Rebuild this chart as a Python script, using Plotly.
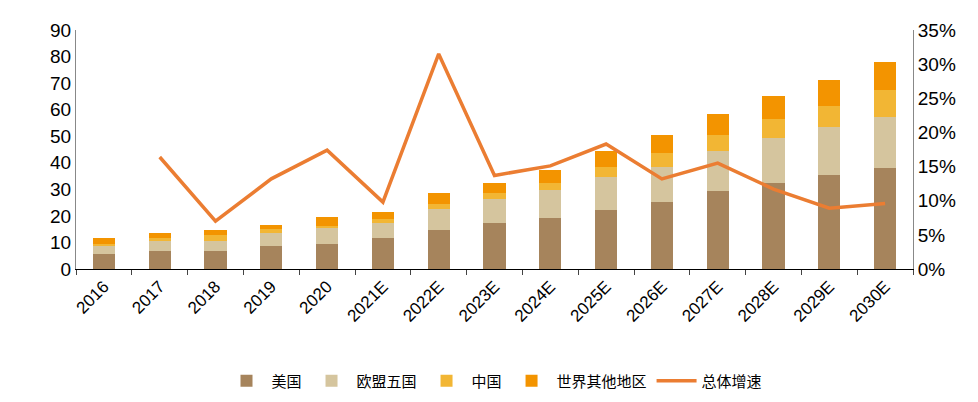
import plotly.graph_objects as go

years = ["2016","2017","2018","2019","2020","2021E","2022E","2023E","2024E","2025E","2026E","2027E","2028E","2029E","2030E"]
us = [5.8,6.6,6.6,8.6,9.6,11.5,14.5,17.5,19.3,22.4,25.4,29.5,32.5,35.5,38.1]
eu5 = [2.9,4.1,4.1,5.1,6.0,5.9,8.1,9.0,10.3,12.1,13.1,15.0,16.9,17.8,19.2]
cn = [0.8,1.1,2.0,1.2,0.7,1.3,1.9,2.0,2.9,4.0,5.0,5.9,7.1,8.0,10.2]
other = [2.3,1.9,1.9,1.8,3.2,2.9,4.0,4.0,4.8,6.0,7.0,7.9,8.7,9.9,10.5]
growth = [None,0.164,0.070,0.132,0.174,0.098,0.315,0.137,0.151,0.183,0.132,0.155,0.117,0.089,0.096]

fig = go.Figure()
for name, vals, col in [("美国",us,"#A6845C"),("欧盟五国",eu5,"#D5C59E"),("中国",cn,"#F2B634"),("世界其他地区",other,"#F39400")]:
    fig.add_bar(x=years, y=vals, name=name, marker=dict(color=col, line=dict(width=0)), width=0.4)
fig.add_scatter(x=years, y=growth, name="总体增速", yaxis="y2", mode="lines",
                line=dict(color="#EB7D32", width=3.5))

fig.update_layout(
    width=978, height=402, barmode="stack", plot_bgcolor="white", paper_bgcolor="white",
    margin=dict(l=68, r=73, t=22, b=130),
    font=dict(family="Noto Sans CJK SC, Arial", size=16, color="#000"),
    xaxis=dict(tickangle=-45, showline=True, linecolor="#000", ticks="outside", ticklen=5, tickson="boundaries", tickfont=dict(family="Arial", size=17)),
    yaxis=dict(range=[0,90], dtick=10, showgrid=False, showline=True, linecolor="#888", ticks="", tickfont=dict(family="Arial", size=19)),
    yaxis2=dict(range=[0,0.35], dtick=0.05, tickformat=".0%", overlaying="y", side="right", showgrid=False,
                showline=True, linecolor="#888", tickfont=dict(family="Arial", size=19)),
    legend=dict(orientation="h", x=0.5, xanchor="center", y=-0.40, yanchor="top", font=dict(size=15), itemwidth=40, traceorder="normal"),
    bargap=0.5,
)
fig.write_html("out.html")
